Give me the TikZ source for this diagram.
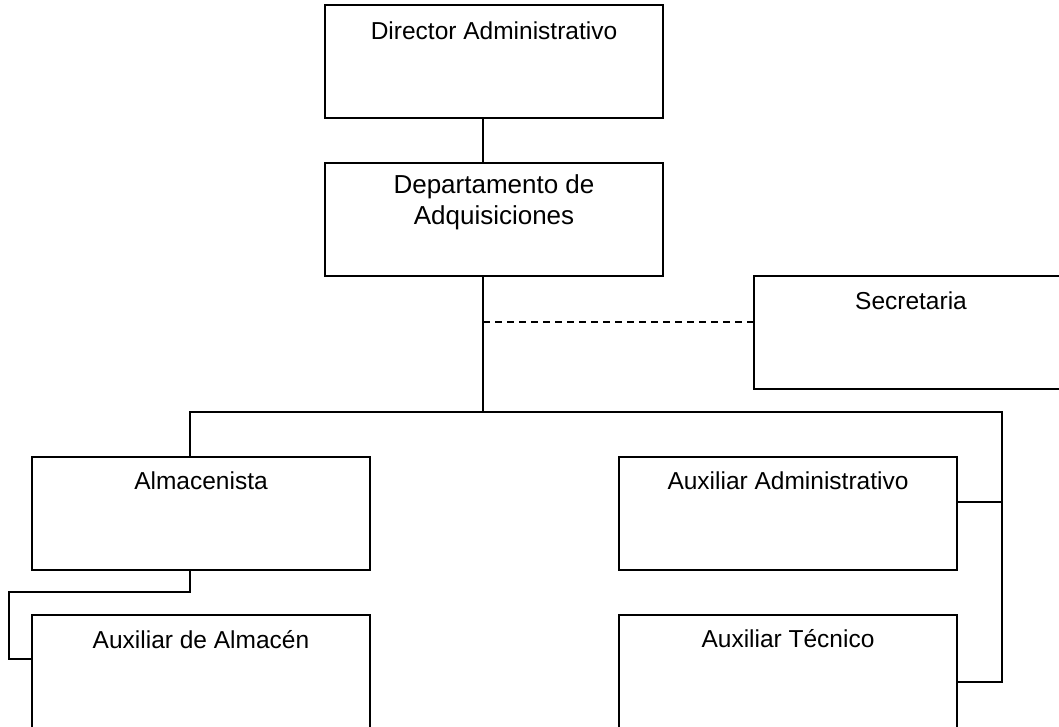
\documentclass[tikz,border=0pt]{standalone}
\usepackage{fontspec}
\setmainfont{Liberation Sans}
\begin{document}
\begin{tikzpicture}[x=1pt,y=-1pt,
  line width=1.6pt,
  orgbox/.style={draw, rectangle, minimum width=338pt, minimum height=113pt, inner sep=0pt},
  boxtext/.style={font=\fontsize{24.5}{28}\selectfont, inner sep=0pt, anchor=center},
  depttext/.style={font=\fontsize{26}{31}\selectfont, inner sep=0pt, align=center, anchor=center},
  staff/.style={dashed, dash pattern=on 7pt off 5pt}]
\useasboundingbox (0,0) rectangle (1059,726);
\clip (0,0) rectangle (1059,726);

% boxes
\node[orgbox] (dir)    at (494,61.5)  {};
\node[orgbox] (dept)   at (494,219.5) {};
\node[orgbox, minimum width=314pt] (sec) at (911,332.5) {};
\node[orgbox] (alm)    at (201,513.5) {};
\node[orgbox] (auxadm) at (788,513.5) {};
\node[orgbox] (auxalm) at (201,671.5) {};
\node[orgbox] (auxtec) at (788,671.5) {};

% titles
\node[boxtext]  (tdir)    at ([yshift=-27pt]dir.north)    {Director Administrativo};
\node[depttext] (tdept)   at ([yshift=-40pt]dept.north)   {Departamento de\\Adquisiciones};
\node[boxtext]  (tsec)    at ([yshift=-26pt]sec.north)    {Secretaria};
\node[boxtext]  (talm)    at ([yshift=-25pt]alm.north)    {Almacenista};
\node[boxtext]  (tauxadm) at ([yshift=-25pt]auxadm.north) {Auxiliar Administrativo};
\node[boxtext]  (tauxalm) at ([yshift=-25pt]auxalm.north) {Auxiliar de Almacén};
\node[boxtext]  (tauxtec) at ([yshift=-24pt]auxtec.north) {Auxiliar Técnico};

% routing points
\coordinate (spine) at (483,412);
\coordinate (staffj) at (483,322);
\coordinate (busl) at (190,412);
\coordinate (busr) at (1002,412);
\coordinate (almdrop) at (190,592);
\coordinate (almside) at (9,592);

% connectors
\draw (spine |- dir.south) -- (spine |- dept.north);
\draw (spine |- dept.south) -- (spine);
\draw[staff] (staffj) -- (staffj -| sec.west);
\draw (busl |- alm.north) -- (busl) -- (busr) -- (busr |- 0,682) -- (auxtec.east |- 0,682);
\draw (busr |- 0,502) -- (auxadm.east |- 0,502);
\draw (busl |- alm.south) -- (almdrop) -- (almside) -- (almside |- 0,659) -- (auxalm.west |- 0,659);
\end{tikzpicture}
\end{document}
